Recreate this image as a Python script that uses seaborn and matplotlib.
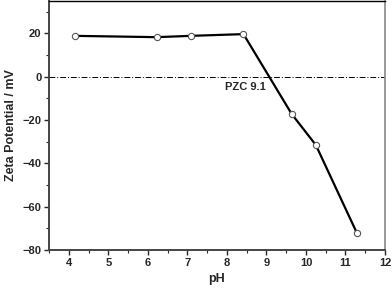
import numpy as np
import pandas as pd
import matplotlib
matplotlib.use("Agg")
import matplotlib.pyplot as plt
import seaborn as sns
from matplotlib.ticker import MultipleLocator

# data
ph = [4.16, 6.22, 7.08, 8.42, 9.64, 10.25, 11.29]
zeta = [18.9, 18.3, 18.9, 19.7, -17.2, -31.5, -72.2]
x_ticks = [4, 5, 6, 7, 8, 9, 10, 11, 12]
y_ticks = [-80, -60, -40, -20, 0, 20]

df = pd.DataFrame({"pH": ph, "zeta": zeta})

sns.set_style("ticks")
plt.rcParams['font.family'] = ['Liberation Sans', 'DejaVu Sans']
plt.rcParams['font.weight'] = 'bold'

fig = plt.figure(figsize=(3.92, 2.88), dpi=100)
ax = fig.add_axes([49/392, 38/288, 336/392, 249/288])

ax.axhline(0, color="black", lw=0.7, ls=(0, (6, 2, 1, 2)))
sns.lineplot(data=df, x="pH", y="zeta", ax=ax, color="black", lw=1.6,
             marker="o", markersize=4.5, markerfacecolor="white",
             markeredgecolor="#555555", markeredgewidth=0.8)

ax.text(7.95, -2.5, "PZC 9.1", fontsize=8, fontweight="bold", va="top")

ax.set_xlim(3.5, 12)
ax.set_ylim(-80, 35)
ax.set_xticks(x_ticks)
ax.set_yticks(y_ticks)
ax.xaxis.set_minor_locator(MultipleLocator(0.5))
ax.yaxis.set_minor_locator(MultipleLocator(10))
ax.tick_params(which="major", direction="out", length=3.5, width=1, labelsize=8, pad=2)
ax.tick_params(which="minor", direction="out", length=2, width=0.8)
for lab in ax.get_xticklabels() + ax.get_yticklabels():
    lab.set_fontweight("bold")

for s in ["left", "bottom"]:
    ax.spines[s].set_linewidth(1.4)
    ax.spines[s].set_color("#444444")
ax.spines["top"].set_linewidth(1.0)
ax.spines["top"].set_color("black")
ax.spines["right"].set_linewidth(1.2)
ax.spines["right"].set_color("#888888")

ax.set_xlabel("pH", fontsize=9, fontweight="bold", labelpad=4)
ax.set_ylabel("Zeta Potential / mV", fontsize=9, fontweight="bold", labelpad=4)

fig.savefig("out.png", dpi=100)
